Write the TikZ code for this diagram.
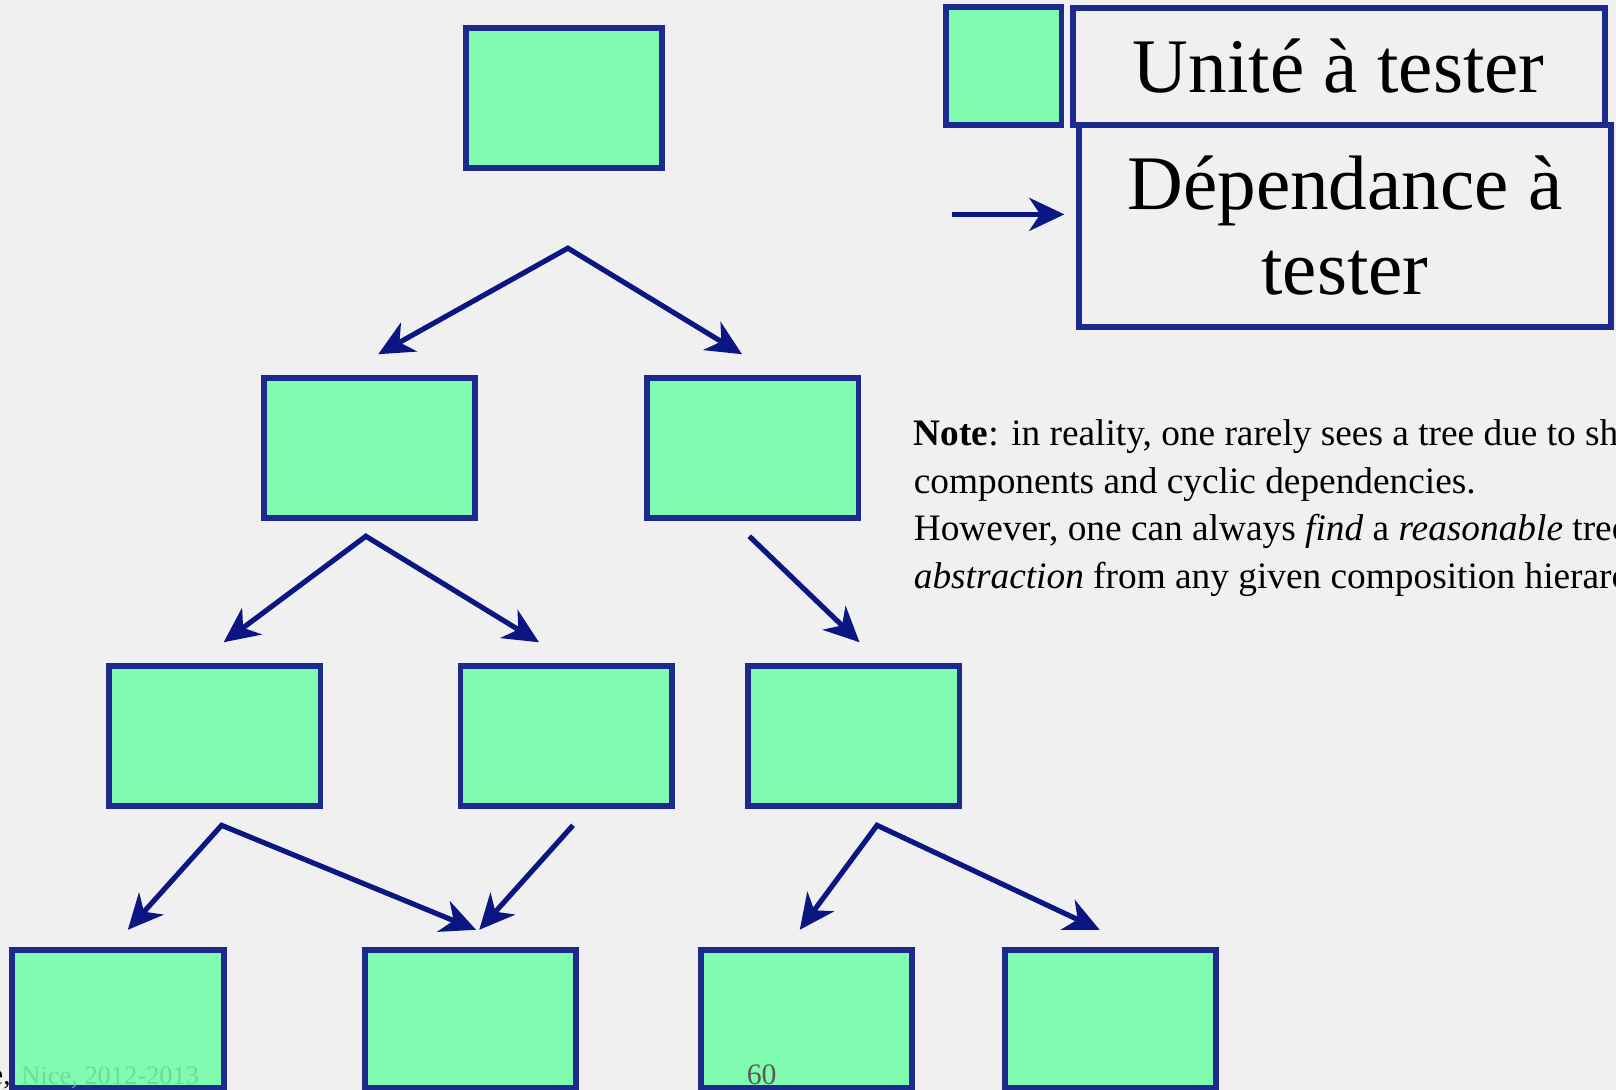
\documentclass[tikz,border=0pt]{standalone}
\usepackage{fontspec}
\setmainfont{Liberation Serif}
\usetikzlibrary{arrows.meta}
\definecolor{UnitGreen}{HTML}{80FCB0}
\definecolor{BoxBlue}{HTML}{1B2A8C}
\definecolor{DepBlue}{HTML}{0C1683}
\definecolor{PaperGray}{HTML}{F0F0F0}
\definecolor{FootGreen}{HTML}{6CDA9C}
\definecolor{FootGray}{HTML}{5A5A5A}

\tikzset{
  unit/.style={draw=BoxBlue, fill=UnitGreen, line width=0.055cm,
    minimum width=2.05cm, minimum height=1.36cm, inner sep=0pt},
  legendbox/.style={draw=BoxBlue, line width=0.055cm, minimum width=5.16cm,
    inner sep=0pt, align=center, font=\fontsize{21.3}{23.3}\selectfont},
  tip/.tip={Stealth[length=9.7pt,width=9.1pt,inset=3pt]},
  dep/.style={draw=DepBlue, line width=0.05cm, -tip},
  depboth/.style={draw=DepBlue, line width=0.05cm, tip-tip},
}

\begin{document}
\begin{tikzpicture}[x=0.01cm,y=-0.01cm]
            \useasboundingbox (0,0) rectangle (1568,1057.6);
            \clip (0,0) rectangle (1568,1057.6);
            \fill[PaperGray] (0,0) rectangle (1568,1057.6);

            % tree of units
            \node[unit, minimum width=1.9cm] (top) at (547,95) {};
            \node[unit] (u21) at (358.5,434.5) {};
            \node[unit] (u22) at (730.5,434.5) {};
            \node[unit] (u31) at (208.5,714) {};
            \node[unit] (u32) at (549.5,714) {};
            \node[unit] (u33) at (828.5,714) {};
            \node[unit, minimum height=1.33cm] (u41) at (114.5,988.5) {};
            \node[unit, minimum height=1.33cm] (u42) at (456.5,988.5) {};
            \node[unit, minimum height=1.33cm] (u43) at (782.5,988.5) {};
            \node[unit, minimum height=1.33cm] (u44) at (1077.5,988.5) {};

            % dependencies
            \draw[depboth] ([shift={(8.5,-20)}]u21.north) -- ([shift={(4,75)}]top.south)
                -- ([shift={(-10.5,-20)}]u22.north);
            \draw[depboth] ([shift={(8.5,-20)}]u31.north) -- ([shift={(-3.5,15)}]u21.south)
                -- ([shift={(-26.5,-20)}]u32.north);
            \draw[dep] ([shift={(-3.5,15)}]u22.south) -- ([shift={(5.5,-20)}]u33.north);
            \draw[depboth] ([shift={(9.5,-17)}]u41.north) -- ([shift={(6.5,16)}]u31.south)
                -- ([shift={(5.5,-17)}]u42.north);
            \draw[dep] ([shift={(6.5,16)}]u32.south) -- ([shift={(8.5,-17)}]u42.north);
            \draw[depboth] ([shift={(-6.5,-17)}]u43.north) -- ([shift={(22.5,16)}]u33.south)
                -- ([shift={(-10.5,-17)}]u44.north);

            % legend
            \node[unit, minimum width=1.12cm, minimum height=1.14cm] (keyunit) at (974,64) {};
            \node[legendbox, minimum height=1.13cm] (unitlabel) at (1299,64.5) {Unité à tester};
            \node[legendbox, minimum height=1.96cm] (deplabel) at (1305,219) {Dépendance à\\tester};
            \coordinate (keyfrom) at (924,208);
            \draw[dep] (keyfrom) -- (keyfrom -| keyunit.east);

            % note
            \node[anchor=base west, align=left, inner sep=0pt,
                  font=\fontsize{10.3}{13.17}\selectfont] (note) at (886,571)
                {\textbf{Note}: in reality, one rarely sees a tree due to shared\\
                 components and cyclic dependencies.\\
                 However, one can always \textit{find} a \textit{reasonable} tree\\
                 \textit{abstraction} from any given composition hierarchy.};

            % footer
            \node[anchor=base east, inner sep=0pt, font=\fontsize{8}{9}\selectfont] (footleft) at (11,1052) {e,};
            \node[anchor=base west, inner sep=0pt, text=FootGreen, font=\fontsize{7.3}{8}\selectfont] (footdate) at (20,1052) {Nice, 2012-2013};
            \node[anchor=base, inner sep=0pt, text=FootGray, font=\fontsize{8.2}{9}\selectfont] (pagenum) at (739,1052) {60};
\end{tikzpicture}
\end{document}
